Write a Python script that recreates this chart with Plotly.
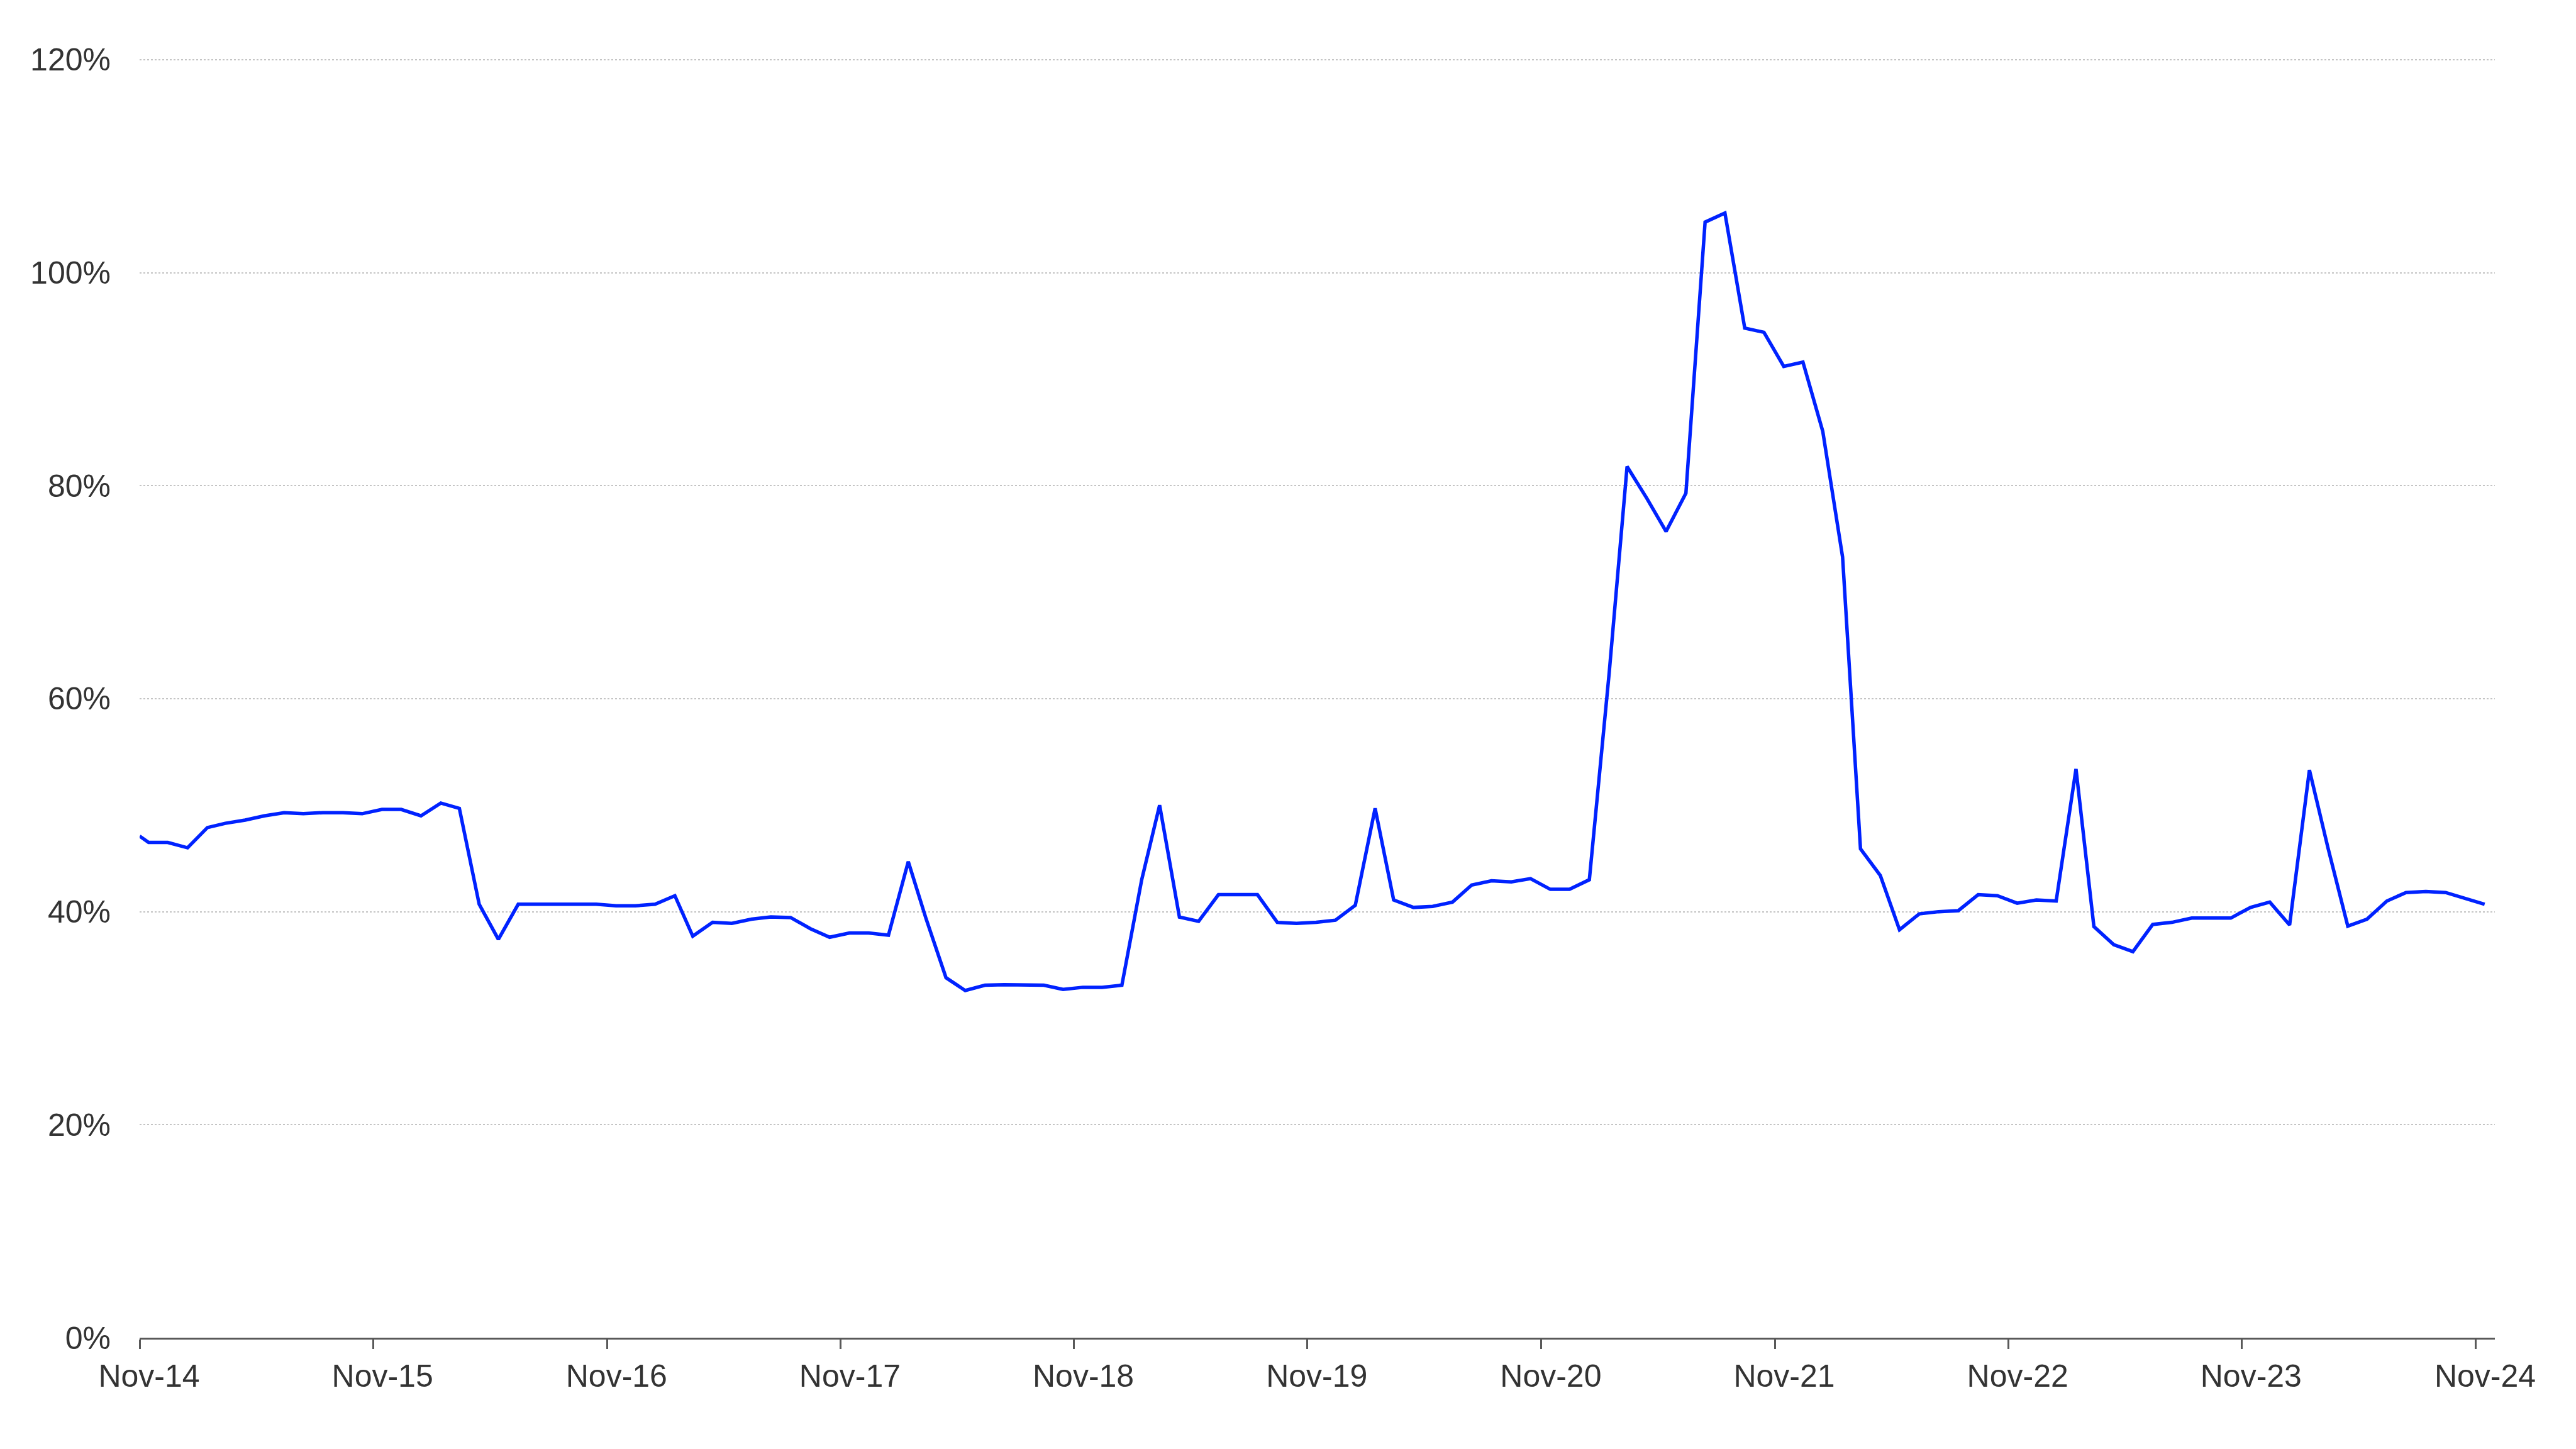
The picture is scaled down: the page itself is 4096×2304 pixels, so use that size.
import plotly.graph_objects as go

# ---- data ----
# first observation sits on the Nov-14 axis start, then mid-month readings
months = ["2014-11-01"] + [
    f"{y}-{m:02d}-15"
    for y in range(2014, 2025)
    for m in range(1, 13)
    if (y, m) >= (2014, 11) and (y, m) <= (2024, 11)
]

ratio_pct = [
    47.1, 46.5, 46.5, 46.0, 47.9, 48.3, 48.6, 49.0, 49.3, 49.2,
    49.3, 49.3, 49.2, 49.6, 49.6, 49.0, 50.2, 49.7, 40.7, 37.4,
    40.7, 40.7, 40.7, 40.7, 40.7, 40.55, 40.55, 40.7, 41.5, 37.7,
    39.0, 38.9, 39.3, 39.5, 39.45, 38.4, 37.6, 38.0, 38.0, 37.8,
    44.7, 39.3, 33.8, 32.6, 33.1, 33.15, 33.1, 33.1, 32.7, 32.9,
    32.9, 33.1, 43.0, 50.0, 39.5, 39.1, 41.6, 41.6, 41.6, 39.0,
    38.9, 39.0, 39.2, 40.6, 49.7, 41.1, 40.4, 40.5, 40.9, 42.5,
    42.9, 42.8, 43.1, 42.1, 42.1, 43.0, 62.4, 81.8, 78.8, 75.7,
    79.3, 104.75, 105.6, 94.8, 94.4, 91.2, 91.6, 85.1, 73.3, 45.9,
    43.4, 38.3, 39.8, 40.0, 40.1, 41.6, 41.5, 40.8, 41.1, 41.0,
    53.4, 38.6, 36.9, 36.25, 38.8, 39.0, 39.4, 39.4, 39.4, 40.4,
    40.9, 38.75, 53.3, 46.0, 38.65, 39.3, 41.0, 41.8, 41.9, 41.8,
    41.3, 40.7,
]

tick_dates = [f"{y}-11-01" for y in range(2014, 2025)]
tick_labels = [f"Nov-{str(y)[2:]}" for y in range(2014, 2025)]
y_ticks = [0, 20, 40, 60, 80, 100, 120]

# ---- figure ----
fig = go.Figure()
fig.add_trace(go.Scatter(
    x=months, y=ratio_pct, mode="lines",
    line=dict(color="#0022ff", width=5.5, shape="linear"),
    hoverinfo="skip", showlegend=False,
))

font = dict(family="Liberation Sans, Arial, sans-serif", size=50, color="#333333")

fig.update_layout(
    width=4096, height=2304,
    margin=dict(l=222, r=129, t=78, b=177, pad=0),
    paper_bgcolor="white", plot_bgcolor="white",
    font=font,
    showlegend=False,
)
fig.update_xaxes(
    type="date",
    range=["2014-11-01", "2024-12-01"],
    tickmode="array", tickvals=tick_dates, ticktext=tick_labels,
    tickfont=font,
    showgrid=False, zeroline=False,
    showline=True, linecolor="#595959", linewidth=2.5,
    ticks="outside", ticklen=15, tickwidth=2.5, tickcolor="#595959",
    ticklabelshift=15, ticklabelstandoff=0,
)
fig.update_yaxes(
    range=[0, 121],
    tickmode="array", tickvals=y_ticks, ticktext=[f"{v}%" for v in y_ticks],
    tickfont=font,
    showgrid=True, gridcolor="#c4c4c4", gridwidth=2, griddash="dot",
    zeroline=False, showline=False, ticks="",
    ticklabelstandoff=45,
)

fig.write_html(
    "out.html",
    config={"displayModeBar": False},
    post_script="document.body.style.margin='0px';",
)
